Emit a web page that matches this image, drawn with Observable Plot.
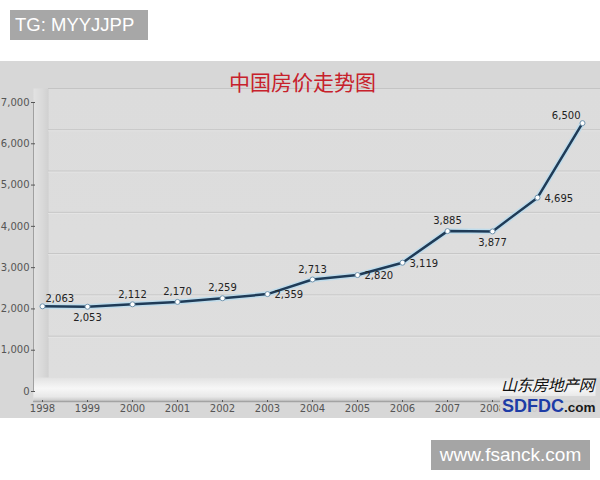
<!DOCTYPE html>
<html><head><meta charset="utf-8">
<script src="https://cdn.jsdelivr.net/npm/d3@7"></script>
<script src="https://cdn.jsdelivr.net/npm/@observablehq/plot@0.6"></script>
<style>
body{margin:0;background:#fff;}
#page{position:relative;width:600px;height:480px;overflow:hidden;background:#fff;}
#tg{position:absolute;left:10px;top:10px;width:138px;height:30px;background:#a7a7a7;color:#fff;font:18.5px "Liberation Sans",Arial,sans-serif;line-height:30px;padding-left:5px;box-sizing:border-box;white-space:nowrap}
#chart{position:absolute;left:0;top:61px;width:600px;height:357px;background:#d7d7d7;}
#chart svg{display:block}
#wm{position:absolute;left:431px;top:440px;width:159px;height:30px;background:#a5a5a5;color:#fff;font:19px "Liberation Sans",Arial,sans-serif;line-height:30px;text-align:center;white-space:nowrap}
#logo1{position:absolute;left:501px;top:373px;font:italic 16px "Noto Sans CJK SC",sans-serif;color:#111;letter-spacing:-0.5px;white-space:nowrap;line-height:22px}
#logo2{position:absolute;left:500px;top:396px;height:20px;padding-left:2px;background:rgba(214,214,214,0.9);white-space:nowrap;line-height:20px}
#logo2 .a{font:bold 18px "Liberation Sans",Arial,sans-serif;color:#1d3ca6}
#logo2 .b{font:bold 13.5px "Liberation Sans",Arial,sans-serif;color:#1a1a1a}
</style>
</head><body>
<svg width="0" height="0" style="position:absolute">
 <defs>
  <linearGradient id="wallGrad" x1="0" y1="0" x2="0" y2="1">
   <stop offset="0" stop-color="#dcdcdc"/><stop offset="1" stop-color="#dedede"/>
  </linearGradient>
  <linearGradient id="sideGrad" x1="0" y1="0" x2="1" y2="0">
   <stop offset="0" stop-color="#e2e2e2"/><stop offset="0.6" stop-color="#d9d9d9"/><stop offset="1" stop-color="#d0d0d0"/>
  </linearGradient>
  <linearGradient id="floorGrad" x1="0" y1="0" x2="0" y2="1">
   <stop offset="0" stop-color="#e2e2e2"/><stop offset="0.45" stop-color="#f7f7f7"/><stop offset="0.8" stop-color="#e8e8e8"/><stop offset="1" stop-color="#c4c4c4"/>
  </linearGradient>
 </defs>
</svg>
<div id="page">
 <div id="tg">TG: MYYJJPP</div>
 <div id="chart"></div>
 <div id="logo1">山东房地产网</div>
 <div id="logo2"><span class="a">SDFDC</span><span class="b">.com</span></div>
 <div id="wm">www.fsanck.com</div>
</div>
<script>
const title = "中国房价走势图";
const years = [1998, 1999, 2000, 2001, 2002, 2003, 2004, 2005, 2006, 2007, 2008, 2009, 2010];
const prices = [2063, 2053, 2112, 2170, 2259, 2359, 2713, 2820, 3119, 3885, 3877, 4695, 6500];
const yTicks = [0, 1000, 2000, 3000, 4000, 5000, 6000, 7000];
const labelPos = ["upright", "below", "above", "above", "above", "right", "above", "right", "right", "above", "below", "right", "upleft"];

const fmt = d3.format(",");
const data = years.map((year, i) => ({year, price: prices[i], pos: labelPos[i], label: fmt(prices[i])}));

const posStyle = {
  upright: {textAnchor: "start", dx: 3, dy: -8},
  below: {textAnchor: "middle", dx: 0, dy: 11},
  above: {textAnchor: "middle", dx: 0, dy: -10},
  right: {textAnchor: "start", dx: 7, dy: 1},
  upleft: {textAnchor: "end", dx: -2, dy: -7}
};

const labelMarks = Object.keys(posStyle).map(p =>
  Plot.text(data.filter(d => d.pos === p), {
    x: "year", y: "price", text: "label", fill: "#222", fontSize: 10, ...posStyle[p]
  })
);

const chart = Plot.plot({
  width: 600,
  height: 357,
  marginTop: 41,
  marginBottom: 27,
  marginLeft: 42,
  marginRight: 18,
  style: {background: "transparent", fontFamily: "DejaVu Sans, Verdana, sans-serif", fontSize: "10px", overflow: "visible"},
  x: {type: "linear", domain: [1998, 2010]},
  y: {domain: [0, 7000]},
  marks: [
    // back wall
    Plot.frame({fill: "url(#wallGrad)", stroke: null, insetLeft: 6, insetRight: -18, insetTop: -14, insetBottom: 14}),
    // left side wall
    Plot.frame({fill: "url(#sideGrad)", stroke: null, insetLeft: -9, insetRight: 534, insetTop: -14, insetBottom: -10}),
    // floor
    Plot.frame({fill: "url(#floorGrad)", stroke: null, insetLeft: -9, insetRight: -13, insetTop: 275, insetBottom: -10}),
    Plot.ruleY([0], {dy: 10, insetLeft: -9, insetRight: -13, stroke: "#a3a3a3", strokeWidth: 1.5}),
    // grid lines on back wall
    Plot.ruleY(yTicks.filter(d => d > 0), {dy: -14, insetLeft: 6, insetRight: -18, stroke: "#c4c4c4"}),
    Plot.ruleY(yTicks.filter(d => d > 0 && d < 7000), {dy: -13, insetLeft: 6, insetRight: -18, stroke: "#e8e8e8", strokeOpacity: 0.7}),
    // y axis line
    Plot.ruleX([{x: 1998, y1: 0, y2: 7000}], {x: "x", y1: "y1", y2: "y2", dx: -9, stroke: "#a0a0a0"}),
    Plot.axisY(yTicks, {tickSize: 4, dx: -7, tickPadding: 2, tickFormat: fmt, color: "#555", fontSize: 10, label: null}),
    Plot.axisX(years, {tickSize: 2, dy: 9, tickPadding: 2, tickFormat: "d", color: "#555", fontSize: 10, label: null}),
    // line with glow
    Plot.line(data, {x: "year", y: "price", stroke: "#b9dcef", strokeWidth: 5.5, strokeOpacity: 0.8}),
    Plot.line(data, {x: "year", y: "price", stroke: "#1f3b57", strokeWidth: 2.5}),
    Plot.dot(data, {x: "year", y: "price", r: 2.5, fill: "#fff", stroke: "#7393ab", strokeWidth: 1}),
    ...labelMarks,
    // title
    Plot.text([title], {frameAnchor: "top", dx: -10, dy: -27, fontSize: 21, fill: "#c7212b", fontFamily: "Noto Sans CJK SC"})
  ]
});
document.getElementById("chart").appendChild(chart);
</script>
</body></html>
